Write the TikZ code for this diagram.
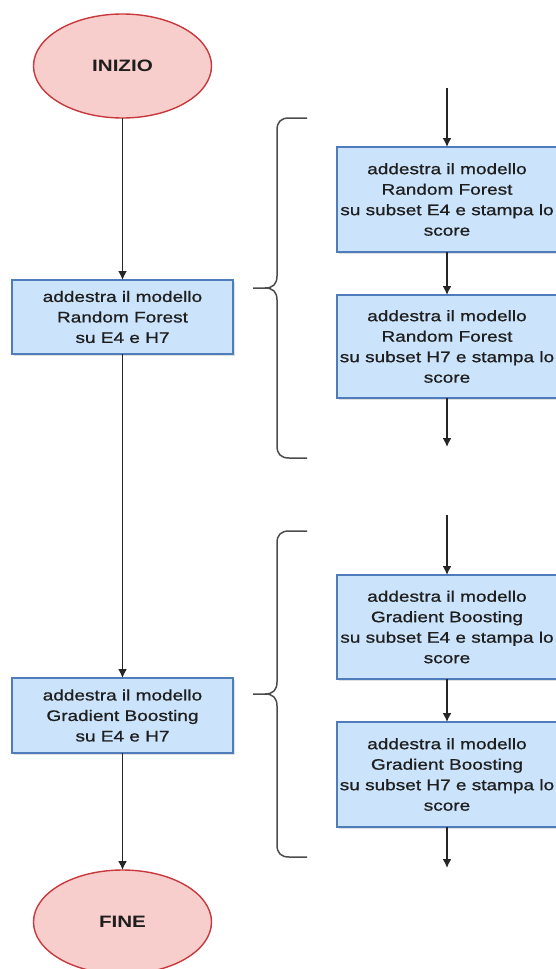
\documentclass[tikz,border=0pt]{standalone}
\usepackage{fontspec}
\setmainfont[FakeStretch=1.25]{Liberation Sans}
\newfontfamily\testo[FakeStretch=1.25,FakeBold=0.8]{Liberation Sans}
\usetikzlibrary{shapes.geometric,shadows,arrows.meta}
\definecolor{boxfill}{HTML}{CCE4FB}
\definecolor{boxline}{HTML}{4F7DBC}
\definecolor{endfill}{HTML}{F8CECC}
\definecolor{endline}{HTML}{C8383C}
\definecolor{txt}{HTML}{1E1E1E}
\begin{document}
\begin{tikzpicture}[x=1pt, y=-1pt]
\tikzset{ >={Latex[length=9pt,width=9pt]}, inner sep=0pt, outer sep=0pt,
  passo/.style={draw=boxline, fill=boxfill, line width=1.4pt, align=center, text=txt,
    font=\testo\fontsize{15.2}{20.5}\selectfont,
    drop shadow={opacity=0.25, shadow xshift=1.5pt, shadow yshift=-2pt}},
  estremo/.style={draw=endline, fill=endfill, ellipse, line width=1.4pt, text=txt,
    minimum width=178pt, minimum height=104pt, font=\fontsize{16.5}{19}\selectfont\bfseries},
  freccia/.style={->, line width=1.6pt, black!85},
  graffa/.style={line width=1.5pt, black!70},
}

\useasboundingbox (0,0) rectangle (555,969);

%%% Blocchi

% colonna sinistra
\node [estremo] (inizio) at (122.5,66) {INIZIO};
\node [passo, minimum width=221pt, minimum height=74pt] (RF) at (122.5,317)
  {addestra il modello\\Random Forest\\su E4 e H7};
\node [passo, minimum width=221pt, minimum height=75pt] (GB) at (122.5,715.5)
  {addestra il modello\\Gradient Boosting\\su E4 e H7};
\node [estremo] (fine) at (122.5,922) {FINE};

% colonna destra - Random Forest
\node [passo, minimum width=220pt, minimum height=105pt] (RFE) at (447,199.5)
  {addestra il modello\\Random Forest\\su subset E4 e stampa lo\\score};
\node [passo, minimum width=220pt, minimum height=103pt] (RFH) at (447,346.5)
  {addestra il modello\\Random Forest\\su subset H7 e stampa lo\\score};

% colonna destra - Gradient Boosting
\node [passo, minimum width=220pt, minimum height=104pt] (GBE) at (447,627)
  {addestra il modello\\Gradient Boosting\\su subset E4 e stampa lo\\score};
\node [passo, minimum width=220pt, minimum height=105pt] (GBH) at (447,774.5)
  {addestra il modello\\Gradient Boosting\\su subset H7 e stampa lo\\score};

\coordinate (RFin)  at (447,88);
\coordinate (RFout) at (447,447);
\coordinate (GBin)  at (447,515);
\coordinate (GBout) at (447,868);

%%% Linee

% flusso principale
\draw [freccia] (inizio) -- (RF);
\draw [freccia] (RF) -- (GB);
\draw [freccia] (GB) -- (fine);

% Random Forest
\draw [freccia] (RFin) -- (RFE);
\draw [freccia] (RFE) -- (RFH);
\draw [freccia] (RFH) -- (RFout);

% Gradient Boosting
\draw [freccia] (GBin) -- (GBE);
\draw [freccia] (GBE) -- (GBH);
\draw [freccia] (GBH) -- (GBout);

% graffe
\draw [graffa] (307,118) -- (289,118) .. controls (281,118) and (277,122) .. (277,130)
  -- (277,276) .. controls (277,284) and (273,288) .. (265,288) -- (253,288)
  (253,288) -- (265,288) .. controls (273,288) and (277,292) .. (277,300)
  -- (277,446) .. controls (277,454) and (281,458) .. (289,458) -- (307,458);
\draw [graffa] (307,531) -- (289,531) .. controls (281,531) and (277,535) .. (277,543)
  -- (277,682) .. controls (277,690) and (273,694) .. (265,694) -- (253,694)
  (253,694) -- (265,694) .. controls (273,694) and (277,698) .. (277,706)
  -- (277,845) .. controls (277,853) and (281,857) .. (289,857) -- (307,857);

\end{tikzpicture}
\end{document}
